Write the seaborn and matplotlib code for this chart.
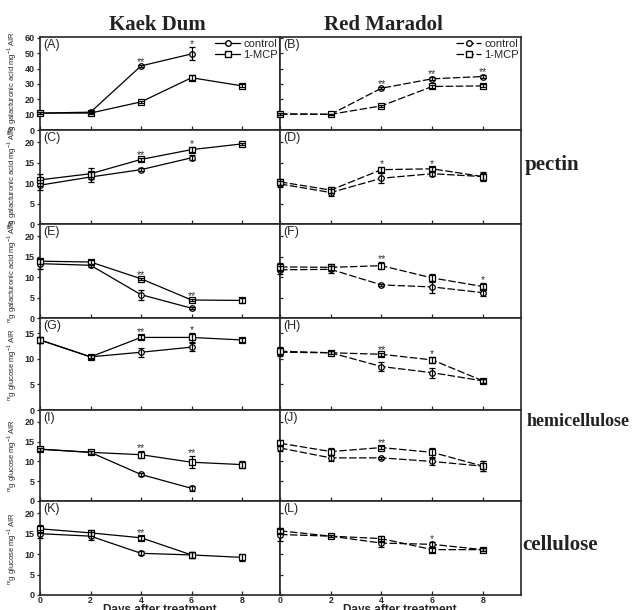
import matplotlib
matplotlib.use('Agg')
import matplotlib.pyplot as plt
from matplotlib.lines import Line2D
import pandas as pd
import seaborn as sns

# dias após tratamento
days = [0, 2, 4, 6, 8]

# Kaek Dum (esquerda) / Red Maradol (direita) -- média e erro padrão
A_ctrl = [11.0, 11.6, 41.7, 49.5]
A_ctrl_se = [0.8, 0.8, 0.8, 4.2]
A_mcp = [11.0, 11.0, 18.3, 34.0, 28.7]
A_mcp_se = [0.8, 0.6, 0.8, 1.6, 1.0]
A_star = ['', '', '**', '*', '']

B_ctrl = [10.4, 10.2, 27.2, 33.3, 34.8]
B_ctrl_se = [0.6, 0.5, 0.7, 1.0, 0.8]
B_mcp = [10.4, 10.2, 15.7, 28.3, 28.7]
B_mcp_se = [0.6, 0.5, 0.7, 0.8, 1.0]
B_star = ['', '', '**', '**', '**']

C_ctrl = [9.5, 11.5, 13.3, 16.2]
C_ctrl_se = [1.2, 1.2, 0.3, 0.6]
C_mcp = [10.8, 12.3, 15.8, 18.2, 19.6]
C_mcp_se = [1.5, 1.4, 0.4, 0.6, 0.3]
C_star = ['', '', '**', '*', '']

D_ctrl = [9.8, 7.7, 11.2, 12.3, 11.6]
D_ctrl_se = [0.8, 0.8, 1.2, 0.6, 1.1]
D_mcp = [10.3, 8.3, 13.3, 13.5, 11.6]
D_mcp_se = [0.7, 0.7, 0.6, 0.5, 0.8]
D_star = ['', '', '*', '*', '']

E_ctrl = [13.3, 12.9, 5.7, 2.4]
E_ctrl_se = [1.2, 0.4, 1.2, 0.3]
E_mcp = [13.9, 13.7, 9.6, 4.4, 4.3]
E_mcp_se = [0.6, 0.4, 0.3, 0.3, 0.7]
E_star = ['', '', '**', '**', '']

F_ctrl = [11.8, 11.9, 8.1, 7.6, 6.2]
F_ctrl_se = [1.0, 0.8, 0.3, 1.5, 0.8]
F_mcp = [12.5, 12.4, 12.8, 9.8, 7.7]
F_mcp_se = [0.9, 0.8, 0.8, 1.0, 0.8]
F_star = ['', '', '**', '', '*']

G_ctrl = [13.7, 10.4, 11.3, 12.3]
G_ctrl_se = [0.6, 0.4, 0.9, 0.8]
G_mcp = [13.7, 10.4, 14.2, 14.2, 13.7]
G_mcp_se = [0.6, 0.3, 0.4, 0.8, 0.3]
G_star = ['', '', '**', '*', '']

H_ctrl = [11.3, 11.2, 8.5, 7.3, 5.7]
H_ctrl_se = [0.8, 0.3, 0.8, 1.0, 0.4]
H_mcp = [11.5, 11.2, 10.9, 9.8, 5.7]
H_mcp_se = [0.8, 0.3, 0.3, 0.6, 0.4]
H_star = ['', '', '**', '*', '']

I_ctrl = [13.1, 12.3, 6.7, 3.2]
I_ctrl_se = [0.4, 0.3, 0.5, 0.6]
I_mcp = [13.1, 12.3, 11.7, 9.8, 9.2]
I_mcp_se = [0.4, 0.3, 0.9, 1.5, 0.8]
I_star = ['', '', '**', '**', '']

J_ctrl = [13.4, 10.9, 10.9, 10.0, 8.8]
J_ctrl_se = [0.7, 0.8, 0.3, 0.8, 1.2]
J_mcp = [14.6, 12.5, 13.5, 12.3, 8.8]
J_mcp_se = [0.7, 0.8, 0.4, 1.2, 1.2]
J_star = ['', '', '**', '', '']

K_ctrl = [15.0, 14.4, 10.2, 9.8]
K_ctrl_se = [1.0, 1.0, 0.5, 0.8]
K_mcp = [16.2, 15.2, 14.0, 9.8, 9.2]
K_mcp_se = [1.0, 0.8, 0.5, 0.8, 0.8]
K_star = ['', '', '**', '', '']

L_ctrl = [14.8, 14.4, 12.7, 12.4, 11.1]
L_ctrl_se = [1.5, 0.3, 1.0, 0.6, 0.4]
L_mcp = [15.7, 14.4, 13.8, 11.1, 11.1]
L_mcp_se = [0.5, 0.3, 0.6, 0.5, 0.4]
L_star = ['', '', '', '*', '']

galac = r'$^{\mathregular{m}}$g galacturonic acid mg$^{\mathregular{-1}}$ AIR'
gluc = r'$^{\mathregular{m}}$g glucose mg$^{\mathregular{-1}}$ AIR'

panels = [
    ('A', A_ctrl, A_ctrl_se, A_mcp, A_mcp_se, A_star, 60.5, [0, 10, 20, 30, 40, 50, 60], galac),
    ('B', B_ctrl, B_ctrl_se, B_mcp, B_mcp_se, B_star, 60.5, [0, 10, 20, 30, 40, 50, 60], None),
    ('C', C_ctrl, C_ctrl_se, C_mcp, C_mcp_se, C_star, 23, [0, 5, 10, 15, 20], galac),
    ('D', D_ctrl, D_ctrl_se, D_mcp, D_mcp_se, D_star, 23, [0, 5, 10, 15, 20], None),
    ('E', E_ctrl, E_ctrl_se, E_mcp, E_mcp_se, E_star, 23, [0, 5, 10, 15, 20], galac),
    ('F', F_ctrl, F_ctrl_se, F_mcp, F_mcp_se, F_star, 23, [0, 5, 10, 15, 20], None),
    ('G', G_ctrl, G_ctrl_se, G_mcp, G_mcp_se, G_star, 18, [0, 5, 10, 15], gluc),
    ('H', H_ctrl, H_ctrl_se, H_mcp, H_mcp_se, H_star, 18, [0, 5, 10, 15], None),
    ('I', I_ctrl, I_ctrl_se, I_mcp, I_mcp_se, I_star, 23, [0, 5, 10, 15, 20], gluc),
    ('J', J_ctrl, J_ctrl_se, J_mcp, J_mcp_se, J_star, 23, [0, 5, 10, 15, 20], None),
    ('K', K_ctrl, K_ctrl_se, K_mcp, K_mcp_se, K_star, 23, [0, 5, 10, 15, 20], gluc),
    ('L', L_ctrl, L_ctrl_se, L_mcp, L_mcp_se, L_star, 23, [0, 5, 10, 15, 20], None),
]

sns.set_style('ticks')
plt.rcParams['font.family'] = ['Liberation Sans', 'DejaVu Sans']
plt.rcParams['axes.linewidth'] = 1.2

W, H = 632, 610
fig = plt.figure(figsize=(W / 100, H / 100), dpi=100)

rows_px = [(37, 130), (130, 224), (224, 318), (318, 410), (410, 501), (501, 595)]
cols_px = [(40, 280), (280, 521)]

for i, (lab, ctrl, ctrl_se, mcp, mcp_se, star, ymax, yt, ylab) in enumerate(panels):
    r, c = divmod(i, 2)
    top, bot = rows_px[r]
    x0, x1 = cols_px[c]
    ax = fig.add_axes([x0 / W, 1 - bot / H, (x1 - x0) / W, (bot - top) / H])

    df = pd.DataFrame({
        'day': days[:len(ctrl)] + days[:len(mcp)],
        'val': ctrl + mcp,
        'grp': ['control'] * len(ctrl) + ['1-MCP'] * len(mcp),
    })
    dash = '' if c == 0 else (6, 2)
    sns.lineplot(data=df, x='day', y='val', hue='grp', style='grp',
                 palette={'control': 'black', '1-MCP': 'black'},
                 markers={'control': 'o', '1-MCP': 's'},
                 dashes={'control': dash, '1-MCP': dash},
                 mfc='white', mec='black', mew=0.9, markersize=4,
                 lw=0.9, legend=False, clip_on=False, ax=ax, zorder=3)
    ax.errorbar(days[:len(ctrl)], ctrl, yerr=ctrl_se, fmt='none', ecolor='black',
                elinewidth=0.9, capsize=2.5, capthick=0.9, zorder=4, clip_on=False)
    ax.errorbar(days[:len(mcp)], mcp, yerr=mcp_se, fmt='none', ecolor='black',
                elinewidth=0.9, capsize=2.5, capthick=0.9, zorder=4, clip_on=False)

    # asteriscos de significância
    for k, s in enumerate(star):
        if not s:
            continue
        tops = [mcp[k] + mcp_se[k]]
        if k < len(ctrl):
            tops.append(ctrl[k] + ctrl_se[k])
        ax.annotate(s, (days[k], max(tops)), xytext=(0, -1.5), textcoords='offset points',
                    ha='center', va='bottom', fontsize=7.5, color='#333333')

    ax.set_xlim(0, 9.5)
    ax.set_ylim(0, ymax)
    ax.set_xticks(days)
    ax.set_yticks(yt)
    ax.set_xlabel('')
    ax.set_ylabel('')
    ax.tick_params(axis='x', direction='in', length=3, width=0.9, pad=0.8)
    ax.tick_params(axis='y', direction='out' if c == 0 else 'in', length=2.5, width=0.9, pad=1.5)
    if r < 5:
        ax.set_xticklabels([])
    else:
        ax.set_xticklabels([str(d) for d in days], fontsize=6.3, fontweight='bold')
    if c == 1:
        ax.set_yticklabels([])
    else:
        ax.set_yticklabels([str(v) for v in yt], fontsize=6.5, fontweight='bold')
        ax.set_ylabel(ylab, fontsize=5.5, family=['Liberation Sans Narrow', 'Liberation Sans', 'DejaVu Sans'])
        ax.yaxis.set_label_coords(-0.088, 0.5)
    for sp in ax.spines.values():
        sp.set_linewidth(1.2)

    ax.text(0.012, 0.975, '(' + lab + ')', transform=ax.transAxes, ha='left', va='top', fontsize=9)

    if lab in ('A', 'B'):
        ls = '-' if c == 0 else (0, (6, 2))
        handles = [Line2D([], [], color='black', lw=0.9, ls=ls, marker='o', mfc='white', mec='black', ms=4),
                   Line2D([], [], color='black', lw=0.9, ls=ls, marker='s', mfc='white', mec='black', ms=4)]
        ax.legend(handles, ['control', '1-MCP'], loc='upper right', frameon=False, fontsize=8,
                  labelspacing=0.1, handlelength=2.2, handletextpad=0.3, borderpad=0.1, borderaxespad=0.1)

serif = ['Liberation Serif', 'DejaVu Serif']
fig.text(157 / W, 1 - 25 / H, 'Kaek Dum', ha='center', va='center', fontsize=15, fontweight='bold', family=serif, color='#222222')
fig.text(383 / W, 1 - 25 / H, 'Red Maradol', ha='center', va='center', fontsize=15, fontweight='bold', family=serif, color='#222222')
fig.text(525 / W, 1 - 165 / H, 'pectin', ha='left', va='center', fontsize=15, fontweight='bold', family=serif, color='#222222')
fig.text(527 / W, 1 - 422 / H, 'hemicellulose', ha='left', va='center', fontsize=13, fontweight='bold', family=serif, color='#222222')
fig.text(522 / W, 1 - 545 / H, 'cellulose', ha='left', va='center', fontsize=15, fontweight='bold', family=serif, color='#222222')
fig.text(160 / W, 1 - 604.5 / H, 'Days after treatment', ha='center', va='top', fontsize=8.5, fontweight='bold')
fig.text(400 / W, 1 - 604.5 / H, 'Days after treatment', ha='center', va='top', fontsize=8.5, fontweight='bold')

fig.savefig('out.png', dpi=100)
